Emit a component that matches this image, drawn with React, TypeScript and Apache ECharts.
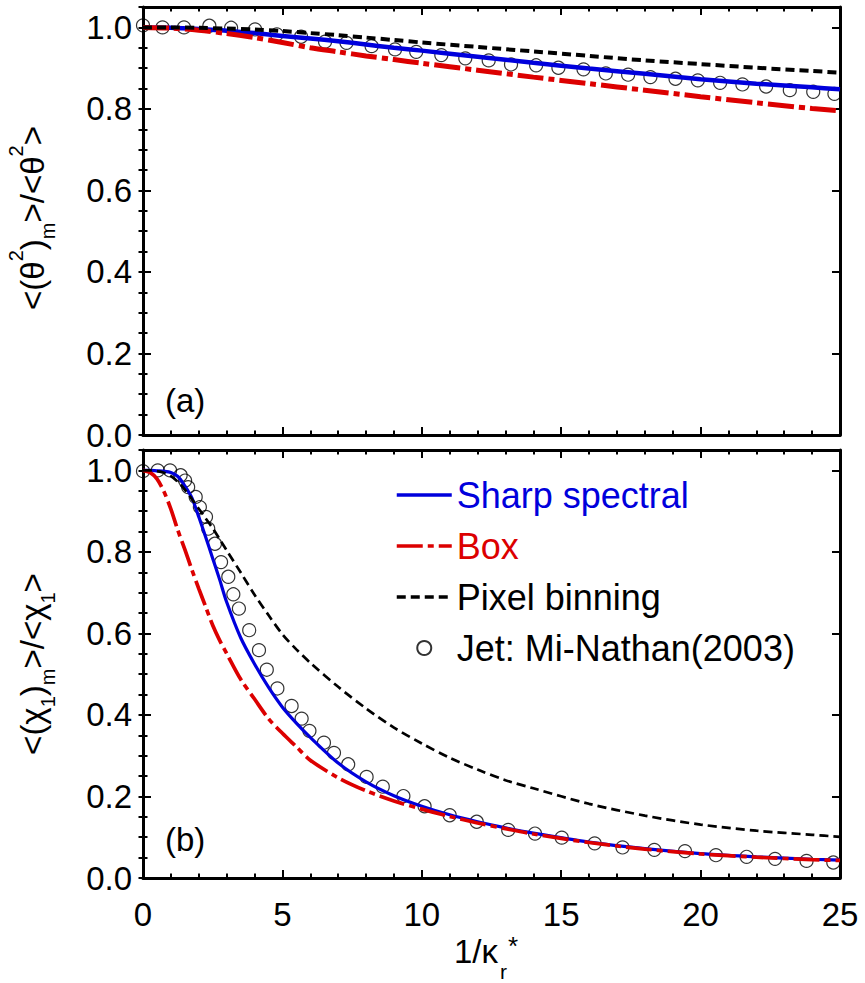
import React, { useEffect, useRef } from "react";
import * as echarts from "echarts";

// ---------------- data ----------------
const xTickLabels = ["0", "5", "10", "15", "20", "25"];
const seriesNames = ["Sharp spectral", "Box", "Pixel binning", "Jet: Mi-Nathan(2003)"];

// panel (a)
const topX = [0, 1, 2, 3, 4, 5, 6, 7, 8, 9, 10, 12, 14, 16, 18, 20, 22, 24, 25];
const topSharp = [1.0, 0.999, 0.996, 0.992, 0.986, 0.979, 0.973, 0.966, 0.958, 0.95, 0.943, 0.928, 0.913, 0.899, 0.886, 0.873, 0.862, 0.853, 0.848];
const topBox = [1.0, 0.998, 0.993, 0.985, 0.975, 0.963, 0.95, 0.94, 0.93, 0.921, 0.912, 0.895, 0.878, 0.862, 0.846, 0.83, 0.815, 0.801, 0.795];
const topPixel = [1.0, 1.0, 0.999, 0.997, 0.995, 0.991, 0.986, 0.981, 0.975, 0.969, 0.963, 0.952, 0.941, 0.93, 0.919, 0.91, 0.901, 0.893, 0.889];
const topJetX = [0, 0.7, 1.47, 2.38, 3.16, 4.02, 4.8, 5.67, 6.53, 7.3, 8.2, 9.04, 9.8, 10.7, 11.56, 12.4, 13.2, 14.1, 14.9, 15.8, 16.6, 17.4, 18.2, 19.1, 19.9, 20.7, 21.5, 22.35, 23.2, 24.04, 24.8];
const topJetY = [1.005, 1.0, 1.0, 1.004, 0.999, 0.995, 0.983, 0.977, 0.965, 0.962, 0.954, 0.946, 0.94, 0.932, 0.924, 0.919, 0.909, 0.907, 0.901, 0.897, 0.887, 0.884, 0.878, 0.874, 0.87, 0.864, 0.86, 0.855, 0.846, 0.842, 0.837];

// panel (b)
const botX = [0, 0.25, 0.5, 0.75, 1, 1.25, 1.5, 1.75, 2, 2.25, 2.5, 2.75, 3, 3.5, 4, 4.5, 5, 5.5, 6, 7, 8, 9, 10, 11, 12, 13, 14, 16, 18, 20, 22, 24, 25];
const botSharp = [1.0, 1.0, 0.999, 0.998, 0.995, 0.985, 0.962, 0.933, 0.886, 0.836, 0.784, 0.732, 0.677, 0.59, 0.525, 0.468, 0.419, 0.38, 0.345, 0.282, 0.236, 0.202, 0.176, 0.155, 0.138, 0.123, 0.11, 0.088, 0.072, 0.06, 0.052, 0.046, 0.044];
const botBox = [1.0, 0.995, 0.979, 0.948, 0.905, 0.853, 0.806, 0.757, 0.71, 0.665, 0.62, 0.583, 0.551, 0.488, 0.439, 0.391, 0.355, 0.322, 0.289, 0.246, 0.214, 0.189, 0.169, 0.151, 0.135, 0.121, 0.108, 0.087, 0.071, 0.059, 0.051, 0.045, 0.043];
const botPixel = [1.0, 1.0, 0.998, 0.994, 0.986, 0.972, 0.953, 0.93, 0.906, 0.882, 0.858, 0.831, 0.804, 0.75, 0.695, 0.645, 0.598, 0.561, 0.528, 0.469, 0.416, 0.369, 0.33, 0.295, 0.266, 0.24, 0.22, 0.182, 0.153, 0.131, 0.116, 0.106, 0.101];
const botJetX = [0, 0.53, 0.97, 1.35, 1.51, 1.62, 1.89, 2.04, 2.26, 2.34, 2.58, 2.8, 3.06, 3.24, 3.44, 3.81, 4.16, 4.44, 4.82, 5.33, 5.69, 5.97, 6.49, 6.85, 7.36, 8.02, 8.6, 9.34, 10.1, 11.0, 11.97, 13.1, 14.06, 15.02, 16.2, 17.2, 18.34, 19.44, 20.55, 21.65, 22.67, 23.8, 24.76];
const botJetY = [0.998, 1.0, 1.0, 0.988, 0.975, 0.959, 0.935, 0.91, 0.886, 0.857, 0.82, 0.775, 0.739, 0.696, 0.661, 0.608, 0.559, 0.511, 0.465, 0.422, 0.391, 0.361, 0.332, 0.307, 0.279, 0.248, 0.224, 0.201, 0.176, 0.154, 0.138, 0.118, 0.109, 0.099, 0.085, 0.075, 0.069, 0.066, 0.056, 0.052, 0.047, 0.042, 0.038];

// ---------------- styles ----------------
const FONT = "'Liberation Sans', Arial, Helvetica, sans-serif";
const BLUE = "#0000dc";
const RED = "#dc0000";
const BLACK = "#000000";

const pairs = (xs: number[], ys: number[]) => xs.map((x, i) => [x, ys[i]]);

function xAxesFor(gridIndex: number, showLabels: boolean) {
  const base: any = {
    type: "value",
    gridIndex,
    min: 0,
    max: 25,
    interval: 5,
    axisLine: { show: true, onZero: false, lineStyle: { color: BLACK, width: 3 } },
    axisTick: { show: true, inside: true, length: 8, lineStyle: { color: BLACK, width: 2 } },
    minorTick: { show: true, splitNumber: 5, length: 4.5, lineStyle: { color: BLACK, width: 2 } },
    splitLine: { show: false },
    minorSplitLine: { show: false },
  };
  return [
    {
      ...base,
      position: "bottom",
      axisLabel: {
        show: showLabels,
        margin: 20,
        fontSize: 33,
        color: BLACK,
        fontFamily: FONT,
        formatter: (v: number) => xTickLabels[Math.round(v / 5)] ?? "",
      },
    },
    { ...base, position: "top", axisLabel: { show: false } },
  ];
}

function yAxesFor(gridIndex: number) {
  const major = (position: string, labels: boolean): any => ({
    type: "value",
    gridIndex,
    position,
    min: 0,
    max: 1.05,
    interval: 0.2,
    axisLine: { show: true, onZero: false, lineStyle: { color: BLACK, width: 3 } },
    axisTick: { show: true, inside: true, length: 8, lineStyle: { color: BLACK, width: 2 } },
    axisLabel: {
      show: labels,
      margin: 11,
      fontSize: 33,
      color: BLACK,
      fontFamily: FONT,
      showMaxLabel: false,
      formatter: (v: number) => (v > 1.01 ? "" : v.toFixed(1)),
    },
    splitLine: { show: false },
  });
  const minor = (position: string): any => ({
    type: "value",
    gridIndex,
    position,
    min: 0,
    max: 1.05,
    interval: 0.05,
    axisLine: { show: false },
    axisTick: { show: true, inside: true, length: 4.5, lineStyle: { color: BLACK, width: 2 } },
    axisLabel: { show: false },
    splitLine: { show: false },
  });
  return [major("left", true), minor("left"), major("right", false), minor("right")];
}

function panelSeries(
  xi: number,
  yi: number,
  lx: number[],
  sharp: number[],
  box: number[],
  pixel: number[],
  jx: number[],
  jy: number[],
  w: number
) {
  return [
    {
      type: "line",
      name: seriesNames[0],
      xAxisIndex: xi,
      yAxisIndex: yi,
      data: pairs(lx, sharp),
      symbol: "none",
      smooth: 0.3,
      lineStyle: { color: BLUE, width: w },
      itemStyle: { color: BLUE },
    },
    {
      type: "line",
      name: seriesNames[1],
      xAxisIndex: xi,
      yAxisIndex: yi,
      data: pairs(lx, box),
      symbol: "none",
      smooth: 0.3,
      lineStyle: { color: RED, width: w + 0.5, type: [26, 5, 6, 5] },
      itemStyle: { color: RED },
    },
    {
      type: "line",
      name: seriesNames[2],
      xAxisIndex: xi,
      yAxisIndex: yi,
      data: pairs(lx, pixel),
      symbol: "none",
      smooth: 0.3,
      lineStyle: { color: BLACK, width: w - 0.5, type: [9, 5] },
      itemStyle: { color: BLACK },
    },
    {
      type: "scatter",
      name: seriesNames[3],
      xAxisIndex: xi,
      yAxisIndex: yi,
      data: pairs(jx, jy),
      symbol: "circle",
      symbolSize: 13,
      itemStyle: { color: "rgba(0,0,0,0)", borderColor: BLACK, borderWidth: 1.2 },
    },
  ];
}

const supSub = {
  n: { fontSize: 33, lineHeight: 52, fontFamily: FONT, fill: BLACK },
  sup: { fontSize: 20, lineHeight: 28, verticalAlign: "top", fontFamily: FONT, fill: BLACK },
  sub: { fontSize: 20, lineHeight: 10, verticalAlign: "bottom", fontFamily: FONT, fill: BLACK },
};

const hiddenSymbol = { color: "rgba(0,0,0,0)", opacity: 0, borderWidth: 0 };

export default function App() {
  const ref = useRef<HTMLDivElement>(null);
  useEffect(() => {
    if (!ref.current) return;
    const chart = echarts.init(ref.current, undefined, { renderer: "svg" });
    const option: any = {
      animation: false,
      backgroundColor: "#ffffff",
      grid: [
        { left: 143, right: 25, top: 7, height: 428, containLabel: false },
        { left: 143, right: 25, top: 450, height: 428, containLabel: false },
      ],
      xAxis: [...xAxesFor(0, false), ...xAxesFor(1, true)],
      yAxis: [...yAxesFor(0), ...yAxesFor(1)],
      legend: {
        show: true,
        orient: "vertical",
        left: 390,
        top: 472,
        itemWidth: 55,
        itemHeight: 14,
        itemGap: 15,
        selectedMode: false,
        textStyle: { fontSize: 36, fontFamily: FONT, color: BLACK },
        lineStyle: { width: 3.5 },
        data: [
          { name: seriesNames[0], textStyle: { color: BLUE }, itemStyle: hiddenSymbol },
          { name: seriesNames[1], textStyle: { color: RED }, itemStyle: hiddenSymbol },
          { name: seriesNames[2], textStyle: { color: BLACK }, itemStyle: hiddenSymbol },
          { name: seriesNames[3], textStyle: { color: BLACK } },
        ],
      },
      graphic: [
        {
          type: "text",
          x: 165,
          y: 400,
          style: { text: "(a)", fontSize: 33, fontFamily: FONT, fill: BLACK, align: "left", verticalAlign: "middle" },
        },
        {
          type: "text",
          x: 165,
          y: 839,
          style: { text: "(b)", fontSize: 33, fontFamily: FONT, fill: BLACK, align: "left", verticalAlign: "middle" },
        },
        {
          type: "text",
          x: 32,
          y: 218,
          rotation: Math.PI / 2,
          style: {
            text: "{n|<(θ}{sup|2}{n|)}{sub|m}{n|>/<θ}{sup|2}{n|>}",
            align: "center",
            verticalAlign: "middle",
            fontFamily: FONT,
            fontSize: 33,
            fill: BLACK,
            rich: supSub,
          },
        },
        {
          type: "text",
          x: 32,
          y: 664,
          rotation: Math.PI / 2,
          style: {
            text: "{n|<(χ}{sub|1}{n|)}{sub|m}{n|>/<χ}{sub|1}{n|>}",
            align: "center",
            verticalAlign: "middle",
            fontFamily: FONT,
            fontSize: 33,
            fill: BLACK,
            rich: supSub,
          },
        },
        {
          type: "text",
          x: 498,
          y: 951,
          style: { text: "1/κ", fontSize: 33, fontFamily: FONT, fill: BLACK, align: "right", verticalAlign: "middle" },
        },
        {
          type: "text",
          x: 508,
          y: 946,
          style: { text: "*", fontSize: 26, fontFamily: FONT, fill: BLACK, align: "left", verticalAlign: "middle" },
        },
        {
          type: "text",
          x: 500,
          y: 971,
          style: { text: "r", fontSize: 21, fontFamily: FONT, fill: BLACK, align: "left", verticalAlign: "middle" },
        },
      ],
      series: [
        ...panelSeries(0, 0, topX, topSharp, topBox, topPixel, topJetX, topJetY, 4.5),
        ...panelSeries(2, 4, botX, botSharp, botBox, botPixel, botJetX, botJetY, 3.2),
      ],
    };
    chart.setOption(option);
    return () => chart.dispose();
  }, []);
  return (
    <div
      ref={ref}
      style={{ position: "absolute", left: 0, top: 0, width: 865, height: 983, background: "#fff" }}
    />
  );
}
